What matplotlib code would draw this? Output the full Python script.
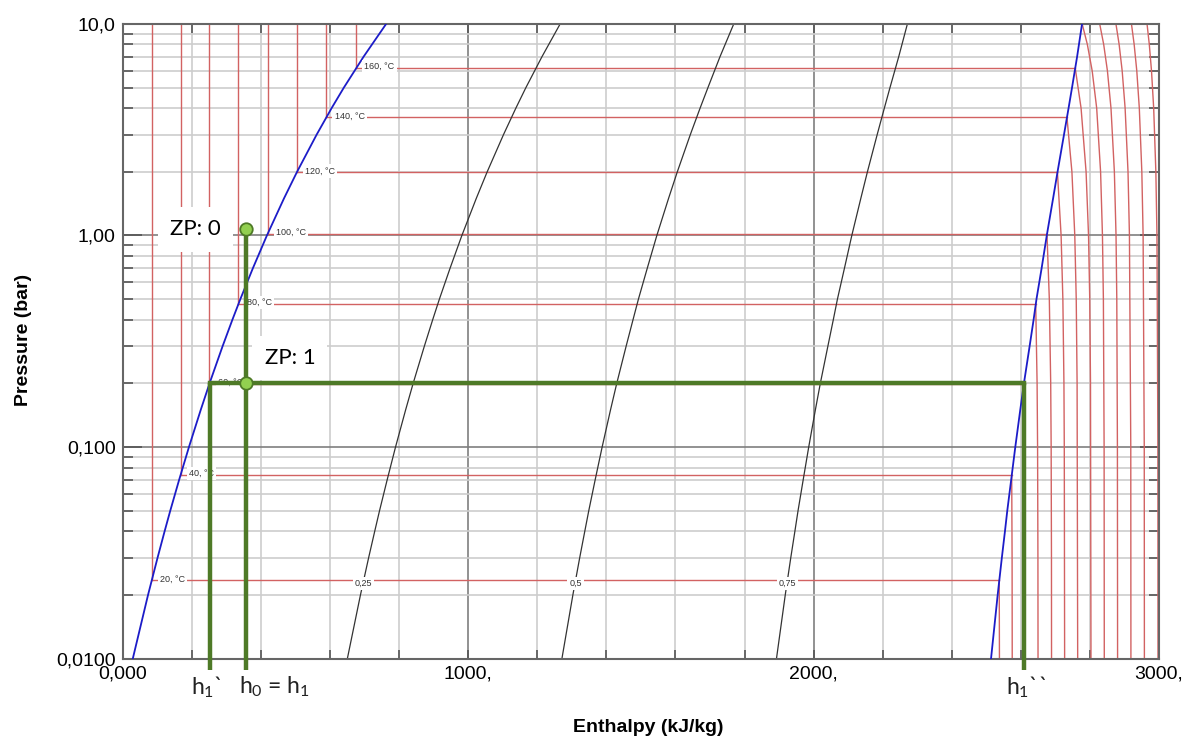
import numpy as np
import matplotlib.pyplot as plt
from matplotlib.ticker import FixedLocator, FixedFormatter, MultipleLocator, LogLocator, NullFormatter
import matplotlib.transforms as mtransforms

plt.rcParams['font.family'] = ['Liberation Sans', 'DejaVu Sans']
plt.rcParams['mathtext.default'] = 'regular'

# saturation line, water (p in bar, h in kJ/kg)
sat_p = [0.01, 0.02, 0.03, 0.04, 0.05, 0.07, 0.1, 0.15, 0.2, 0.3, 0.4, 0.5, 0.7,
         1.0, 1.5, 2.0, 3.0, 4.0, 5.0, 7.0, 10.0]
sat_hl = [29.3, 73.4, 101.0, 121.4, 137.7, 163.4, 191.8, 226.0, 251.4, 289.3, 317.6,
          340.5, 376.8, 417.4, 467.1, 504.7, 561.5, 604.7, 640.1, 697.2, 762.5]
sat_hv = [2513.7, 2532.9, 2545.0, 2554.0, 2560.7, 2572.0, 2583.9, 2598.3, 2608.9,
          2625.4, 2636.9, 2645.2, 2660.1, 2675.0, 2693.4, 2706.2, 2724.9, 2738.1,
          2748.1, 2762.8, 2777.1]

# lines of constant vapour quality (same pressures as sat_p)
q_025 = [650.4, 688.3, 712.0, 729.6, 743.5, 765.6, 789.8, 819.1, 840.8, 873.3, 897.4,
         916.7, 947.6, 981.8, 1023.7, 1055.1, 1102.4, 1138.1, 1167.1, 1213.6, 1266.2]
q_050 = [1271.5, 1303.2, 1323.0, 1337.7, 1349.2, 1367.7, 1387.9, 1412.2, 1430.2, 1457.4,
         1477.3, 1492.9, 1518.5, 1546.2, 1580.3, 1605.5, 1643.2, 1671.4, 1694.1, 1729.0,
         1768.8]
q_075 = [1892.6, 1918.0, 1934.0, 1945.9, 1955.0, 1969.9, 1985.9, 2005.2, 2019.5, 2041.4,
         2057.1, 2069.0, 2089.3, 2110.6, 2136.8, 2155.8, 2184.1, 2204.8, 2221.1, 2246.4,
         2271.5]
q_labels = ["0,25", "0,5", "0,75"]
q_label_h = [697.4, 1310.7, 1924.0]

# isotherms with a two-phase section
iso_T = [20, 40, 60, 80, 100, 120, 140, 160]
iso_psat = [0.02339, 0.07384, 0.1995, 0.4739, 1.0142, 1.9867, 3.6154, 6.1814]
iso_hliq = [83.9, 167.5, 251.2, 335.0, 419.2, 503.8, 589.2, 675.6]
iso_hvap = [2537.4, 2573.5, 2608.8, 2643.0, 2675.6, 2705.9, 2733.5, 2757.4]

# superheated parts of the isotherms
sh_T = [20, 40, 60, 80, 100, 120, 140, 160, 180, 200, 220, 240, 260]
sh_p = [
    [0.02339, 0.01],
    [0.07384, 0.03, 0.01],
    [0.1995, 0.1, 0.03, 0.01],
    [0.4739, 0.2, 0.1, 0.03, 0.01],
    [1.0142, 0.5, 0.2, 0.1, 0.03, 0.01],
    [1.9867, 1.0, 0.5, 0.2, 0.1, 0.01],
    [3.6154, 2.0, 1.0, 0.5, 0.2, 0.01],
    [6.1814, 4.0, 2.0, 1.0, 0.5, 0.2, 0.01],
    [10.0, 8.0, 6.0, 4.0, 2.0, 1.0, 0.5, 0.1, 0.01],
    [10.0, 8.0, 6.0, 4.0, 2.0, 1.0, 0.5, 0.1, 0.01],
    [10.0, 8.0, 6.0, 4.0, 2.0, 1.0, 0.1, 0.01],
    [10.0, 8.0, 6.0, 4.0, 2.0, 1.0, 0.1, 0.01],
    [10.0, 8.0, 6.0, 4.0, 2.0, 1.0, 0.1, 0.01],
]
sh_h = [
    [2537.4, 2538.0],
    [2573.5, 2574.6, 2575.0],
    [2608.8, 2610.6, 2611.9, 2612.3],
    [2643.0, 2647.0, 2648.4, 2649.4, 2649.7],
    [2675.6, 2682.4, 2686.4, 2687.7, 2688.6, 2688.8],
    [2705.9, 2716.5, 2721.6, 2724.7, 2725.7, 2726.7],
    [2733.5, 2747.8, 2756.1, 2760.3, 2762.8, 2764.5],
    [2757.4, 2774.3, 2788.8, 2795.9, 2799.4, 2801.6, 2803.0],
    [2777.6, 2792.5, 2806.5, 2819.5, 2830.8, 2836.2, 2838.9, 2841.0, 2841.5],
    [2828.3, 2839.8, 2850.6, 2860.9, 2870.7, 2875.5, 2877.7, 2879.5, 2880.0],
    [2875.3, 2884.5, 2893.3, 2901.8, 2910.2, 2914.3, 2918.2, 2918.6],
    [2920.2, 2928.0, 2935.6, 2942.9, 2950.2, 2953.9, 2957.2, 2957.6],
    [2965.3, 2971.8, 2978.2, 2984.5, 2990.8, 2994.0, 2996.7, 2997.0],
]

# process drawn on top (ZP 0 -> ZP 1)
h0 = 356.0
p0 = 1.07
p1 = 0.2
h1_liq = 251.4
h1_vap = 2608.9

x_ticks = [0, 1000, 2000, 3000]
x_ticklabels = ["0,000", "1000,", "2000,", "3000,"]
y_ticks = [0.01, 0.1, 1.0, 10.0]
y_ticklabels = ["0,0100", "0,100", "1,00", "10,0"]

red = '#d26262'
blue = '#1c1cc8'
green = '#4e7a27'
light_green = '#92d050'

fig = plt.figure(figsize=(11.89, 7.38), dpi=100)
ax = fig.add_axes([0.1032, 0.1077, 0.8716, 0.8598])
ax.set_yscale('log')
ax.set_xlim(0, 3000)
ax.set_ylim(0.01, 10)

# grid
ax.xaxis.set_major_locator(FixedLocator(x_ticks))
ax.xaxis.set_major_formatter(FixedFormatter(x_ticklabels))
ax.xaxis.set_minor_locator(MultipleLocator(200))
ax.yaxis.set_major_locator(FixedLocator(y_ticks))
ax.yaxis.set_major_formatter(FixedFormatter(y_ticklabels))
ax.yaxis.set_minor_locator(LogLocator(base=10, subs=range(2, 10)))
ax.yaxis.set_minor_formatter(NullFormatter())
ax.grid(which='minor', color='#cdcdcd', lw=1.2, zorder=0)
ax.grid(which='major', color='#7f7f7f', lw=1.2, zorder=0)
ax.set_axisbelow(True)

ax.tick_params(axis='x', which='both', direction='in', top=True, bottom=True,
               length=6.5, width=1.2, color='#555555', labelsize=14, pad=5)
ax.tick_params(axis='y', which='minor', direction='in', left=True, right=True,
               length=7, width=1.2, color='#555555')
ax.tick_params(axis='y', which='major', direction='in', left=True, right=True,
               length=14, width=1.2, color='#555555', labelsize=14, pad=5)
for s in ax.spines.values():
    s.set_color('#666666')
    s.set_linewidth(1.5)

# two-phase isotherms and compressed-liquid isotherms
for T, ps, hl, hv in zip(iso_T, iso_psat, iso_hliq, iso_hvap):
    ax.plot([hl, hl], [ps, 10], color=red, lw=1.0, zorder=2)
    ax.plot([hl, hv], [ps, ps], color=red, lw=1.0, zorder=2)
    ax.annotate(f"{T}, °C", (hl, ps), xytext=(6, 1), textcoords='offset points',
                ha='left', va='center', fontsize=6.5, color='#333333', zorder=4,
                bbox=dict(boxstyle='square,pad=0.25', fc='white', ec='none'))

# superheated isotherms
for ps, hs in zip(sh_p, sh_h):
    ax.plot(hs, ps, color=red, lw=1.0, zorder=2)

# quality lines
for hq in (q_025, q_050, q_075):
    ax.plot(hq, sat_p, color='#333333', lw=0.9, zorder=2)
for lab, hq in zip(q_labels, q_label_h):
    ax.annotate(lab, (hq, iso_psat[0]), xytext=(0, -2), textcoords='offset points',
                ha='center', va='center', fontsize=6.5, color='#333333', zorder=4,
                bbox=dict(boxstyle='square,pad=0.2', fc='white', ec='none'))

# saturation curve
ax.plot(sat_hl, sat_p, color=blue, lw=1.3, zorder=3)
ax.plot(sat_hv, sat_p, color=blue, lw=1.3, zorder=3)

# process lines
y_below = 0.0088
ax.plot([h0, h0], [p0, y_below], color=green, lw=3.2, zorder=5, clip_on=False,
        solid_capstyle='butt')
ax.plot([h1_liq, h1_vap], [p1, p1], color=green, lw=3.2, zorder=5)
ax.plot([h1_liq, h1_liq], [p1, y_below], color=green, lw=3.2, zorder=5, clip_on=False,
        solid_capstyle='butt')
ax.plot([h1_vap, h1_vap], [p1, y_below], color=green, lw=3.2, zorder=5, clip_on=False,
        solid_capstyle='butt')
ax.plot([h0, h0], [p0, p1], ls='none', marker='o', ms=9, mfc=light_green,
        mec=green, mew=1.3, zorder=6)

lab_font = ['Lato', 'DejaVu Sans']
ax.text(210, p0, "ZP: 0", fontsize=16, family=lab_font, ha='center', va='center',
        zorder=4, bbox=dict(boxstyle='square,pad=0.55', fc='white', ec='none'))
ax.text(484, 0.264, "ZP: 1", fontsize=16, family=lab_font, ha='center', va='center',
        zorder=4, bbox=dict(boxstyle='square,pad=0.55', fc='white', ec='none'))

trans = mtransforms.blended_transform_factory(ax.transData, ax.transAxes)
ax.text(h1_liq - 10, -0.045, "h$_1$`", fontsize=16.5, family=lab_font, ha='center',
        va='center', transform=trans, color='#222222')
ax.text(h0 - 18, -0.045, "h$_0$ = h$_1$", fontsize=16.5, family=lab_font, ha='left',
        va='center', transform=trans, color='#222222')
ax.text(h1_vap + 5, -0.045, "h$_1$``", fontsize=16.5, family=lab_font, ha='center',
        va='center', transform=trans, color='#222222')

fig.text(648 / 1189, 1 - 728 / 738, "Enthalpy (kJ/kg)", fontsize=14,
         fontweight='bold', ha='center', va='center')
fig.text(23 / 1189, 1 - 340 / 738, "Pressure (bar)", fontsize=14,
         fontweight='bold', ha='center', va='center', rotation=90)

fig.savefig('out.png', dpi=100)
